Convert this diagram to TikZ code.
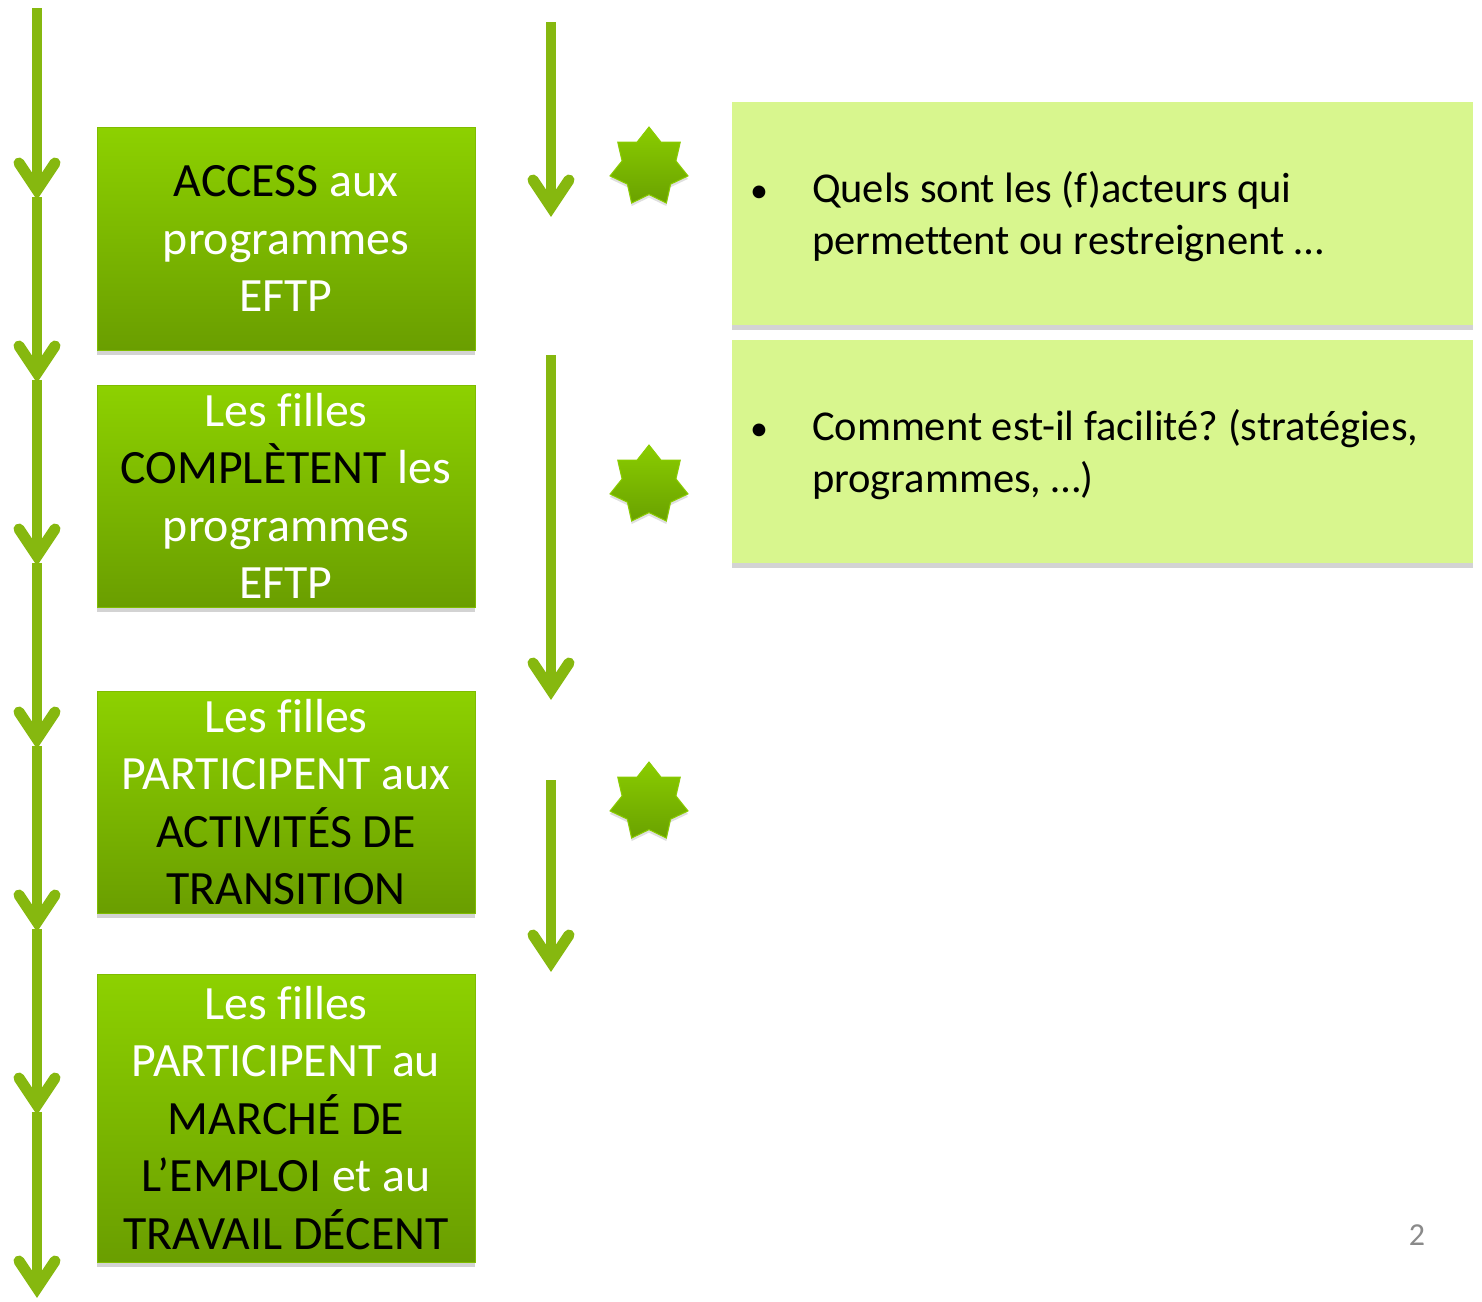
\documentclass[tikz,border=0pt]{standalone}
\usepackage{fontspec}
\setmainfont{Carlito}[Ligatures=NoCommon]
\frenchspacing
\usetikzlibrary{shapes.geometric,shadows,calc,positioning}
\definecolor{arrowgreen}{HTML}{86B80F}
\definecolor{boxtop}{HTML}{8DD100}
\definecolor{boxbot}{HTML}{6A9E00}
\definecolor{boxedge}{HTML}{7FBC00}
\definecolor{notefill}{HTML}{D8F68E}
\definecolor{startop}{HTML}{8ACC00}
\definecolor{starbot}{HTML}{6AA200}
\definecolor{pagegray}{HTML}{8A8A8A}
\newcommand{\dk}[1]{\textcolor{black}{#1}}
\newcommand{\blt}{{\fontsize{36}{40}\selectfont•}}
\tikzset{
  stage/.style={draw=boxedge,line width=1pt,top color=boxtop,bottom color=boxbot,minimum width=378pt,inner sep=0pt,text=white,align=center,font=\fontsize{47.8}{57.5}\selectfont,drop shadow={shadow xshift=0pt,shadow yshift=-5pt,opacity=.35}},
  note/.style={fill=notefill,minimum width=741pt,minimum height=223pt,inner sep=0pt,drop shadow={shadow xshift=0pt,shadow yshift=-5pt,opacity=.35}},
  notetext/.style={anchor=west,inner sep=0pt,font=\fontsize{42.5}{52}\selectfont},
  burst/.style={star,star points=7,star point ratio=1.45,minimum size=80pt,inner sep=0pt,draw=startop,line width=1pt,top color=startop,bottom color=starbot,drop shadow={shadow xshift=0pt,shadow yshift=-3pt,opacity=.25}},
  shaft/.style={arrowgreen,line width=10pt},
  barb/.style={arrowgreen,line width=11pt,line cap=round,line join=miter}
}
\begin{document}
\begin{tikzpicture}[x=1pt,y=-1pt]
\useasboundingbox (0,0) rectangle (1482,1301);
\foreach \k in {0,...,6}{
  \pgfmathsetmacro{\yb}{200+183*\k}
  \pgfmathsetmacro{\ya}{\k==0 ? 8 : \yb-186}
  \coordinate (L\k a) at (37,\ya);
  \coordinate (L\k b) at (37,\yb);
  \draw[shaft] (L\k a) -- ($(L\k b)+(0,-10)$);
  \draw[barb] ($(L\k b)+(-18,-37)$) -- ($(L\k b)+(0,-10)$) -- ($(L\k b)+(18,-37)$);
}
\foreach \n/\ya/\yb in {1/22/217,2/355/700,3/780/972}{
  \coordinate (M\n a) at (551,\ya);
  \coordinate (M\n b) at (551,\yb);
  \draw[shaft] (M\n a) -- ($(M\n b)+(0,-10)$);
  \draw[barb] ($(M\n b)+(-18,-37)$) -- ($(M\n b)+(0,-10)$) -- ($(M\n b)+(18,-37)$);
}
\node[stage,minimum height=223pt] (s1) at (286,238.5) {\dk{ACCESS} aux\\programmes\\EFTP};
\node[stage,minimum height=222pt] (s2) at (286,496) {Les filles\\\dk{COMPLÈTENT} les\\programmes\\EFTP};
\node[stage,minimum height=222pt] (s3) at (286,802) {Les filles\\PARTICIPENT aux\\\dk{ACTIVITÉS DE}\\\dk{TRANSITION}};
\node[stage,minimum height=288pt] (s4) at (286,1118) {Les filles\\PARTICIPENT au\\\dk{MARCHÉ DE}\\\dk{L’EMPLOI} et au\\\dk{TRAVAIL DÉCENT}};
\foreach \n/\y in {1/167,2/485,3/802}{\node[burst] (st\n) at (649,\y) {};}
\node[note] (q1) at (1102.5,213.5) {};
\node[note] (q2) at (1102.5,451) {};
\node[notetext] (t1) at ($(q1.west)+(18,5)$) {\begin{tabular}{@{}p{62pt}@{}l@{}}\blt&Quels sont les (f)acteurs qui\\&permettent ou restreignent …\end{tabular}};
\node[notetext] (t2) at ($(q2.west)+(18,5)$) {\begin{tabular}{@{}p{62pt}@{}l@{}}\blt&Comment est-il facilité? (stratégies,\\&programmes, …)\end{tabular}};
\node[text=pagegray,font=\fontsize{32}{38}\selectfont] (pg) at (1417,1235) {2};
\end{tikzpicture}
\end{document}
